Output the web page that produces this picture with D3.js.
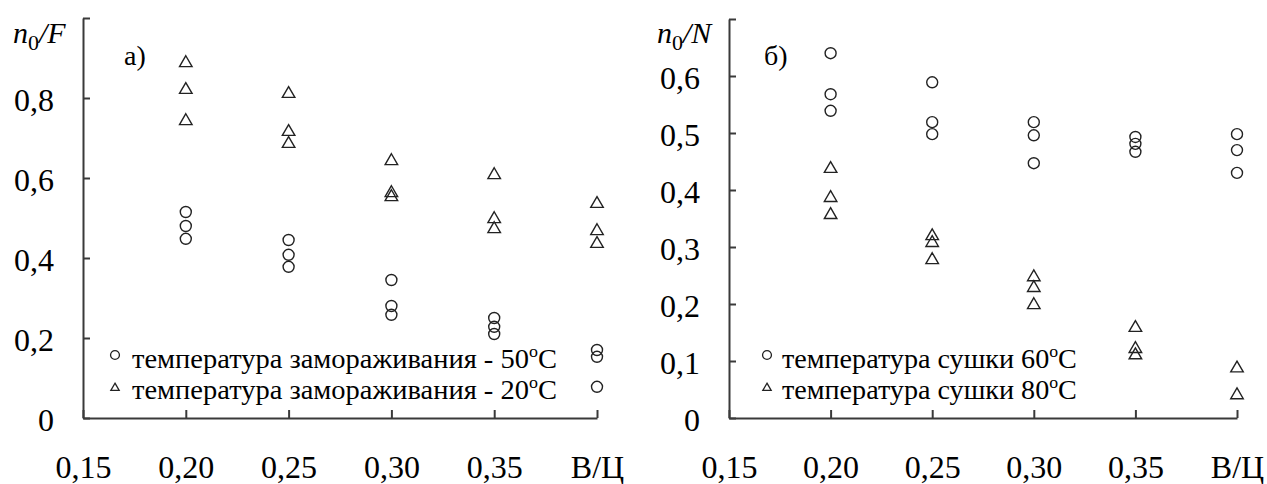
<!DOCTYPE html>
<html>
<head>
<meta charset="utf-8">
<script src="https://cdn.jsdelivr.net/npm/d3@7"></script>
<style>
  body { margin: 0; background: #fff; }
  svg { display: block; }
</style>
</head>
<body>
<svg id="chart" width="1267" height="484"></svg>
<script>
// ---------- data ----------
const xTicks = [0.15, 0.20, 0.25, 0.30, 0.35, 0.40];
const xTickLabels = ["0,15", "0,20", "0,25", "0,30", "0,35", "В/Ц"];

// panel a)
const aYTicks = [0, 0.2, 0.4, 0.6, 0.8, 1.0];
const aYTickLabels = ["0", "0,2", "0,4", "0,6", "0,8", ""];
const aCircles = [
  [0.20, [0.515, 0.48, 0.448]],
  [0.25, [0.445, 0.408, 0.378]],
  [0.30, [0.345, 0.28, 0.258]],
  [0.35, [0.25, 0.228, 0.21]],
  [0.40, [0.17, 0.153, 0.078]]
];
const aTriangles = [
  [0.20, [0.89, 0.823, 0.745]],
  [0.25, [0.813, 0.718, 0.688]],
  [0.30, [0.645, 0.565, 0.555]],
  [0.35, [0.61, 0.50, 0.475]],
  [0.40, [0.538, 0.47, 0.438]]
];
const aLegend = ["температура замораживания - 50", "температура замораживания - 20"];

// panel б)
const bYTicks = [0, 0.1, 0.2, 0.3, 0.4, 0.5, 0.6, 0.7];
const bYTickLabels = ["0", "0,1", "0,2", "0,3", "0,4", "0,5", "0,6", ""];
const bCircles = [
  [0.20, [0.64, 0.568, 0.539]],
  [0.25, [0.589, 0.519, 0.498]],
  [0.30, [0.519, 0.496, 0.447]],
  [0.35, [0.493, 0.481, 0.467]],
  [0.40, [0.498, 0.47, 0.43]]
];
const bTriangles = [
  [0.20, [0.439, 0.388, 0.358]],
  [0.25, [0.321, 0.309, 0.279]],
  [0.30, [0.249, 0.23, 0.20]],
  [0.35, [0.16, 0.123, 0.112]],
  [0.40, [0.089, 0.042]]
];
const bLegend = ["температура сушки 60", "температура сушки 80"];

// ---------- drawing ----------
const FONT = "Liberation Serif";
const svg = d3.select("#chart");
const AXIS = "#3a3a3a";
const MARK = "#222";

function flatten(groups) {
  const out = [];
  groups.forEach(([x, ys]) => ys.forEach(y => out.push({ x, y })));
  return out;
}

function txt(sel, size) {
  return sel.attr("font-family", FONT).style("font-family", FONT)
    .attr("font-size", size).style("font-size", size + "px").attr("fill", "#000");
}

function panel(opt) {
  const g = svg.append("g");
  const x = d3.scaleLinear().domain([0.15, 0.40]).range([opt.x0, opt.x1]);
  const y = d3.scaleLinear().domain([0, opt.yMax]).range([418, opt.yTop]);

  // x axis
  const xa = g.append("g").attr("transform", `translate(0,${y(0)})`)
    .call(d3.axisBottom(x).tickValues(xTicks)
      .tickFormat((d, i) => xTickLabels[i]).tickSizeInner(-8).tickSizeOuter(0));
  xa.attr("font-family", FONT).attr("font-size", 32);
  xa.select(".domain").attr("stroke", AXIS).attr("stroke-width", 2);
  xa.selectAll(".tick line").attr("stroke", AXIS).attr("stroke-width", 2);
  txt(xa.selectAll(".tick text").attr("y", 60).attr("dy", 0), 32);

  // y axis
  const ya = g.append("g").attr("transform", `translate(${x(0.15)},0)`)
    .call(d3.axisLeft(y).tickValues(opt.yTicks)
      .tickFormat((d, i) => opt.yTickLabels[i]).tickSizeInner(-7).tickSizeOuter(0));
  ya.attr("font-family", FONT).attr("font-size", 32);
  ya.select(".domain").attr("stroke", AXIS).attr("stroke-width", 2);
  ya.selectAll(".tick line").attr("stroke", AXIS).attr("stroke-width", 2);
  txt(ya.selectAll(".tick text").attr("x", -29).attr("dy", 12), 32);

  // axis title
  const t = txt(g.append("text").attr("x", opt.titleX).attr("y", 43), 30)
    .attr("font-style", "italic").style("font-style", "italic");
  t.append("tspan").text("n");
  t.append("tspan").text("0").attr("dy", 7).attr("font-size", 22).style("font-size", "22px")
    .attr("font-style", "normal").style("font-style", "normal");
  t.append("tspan").text("/" + opt.titleVar).attr("dy", -7);

  // panel letter
  txt(g.append("text").attr("x", opt.letterX).attr("y", 65), 28).text(opt.letter);

  // markers
  const circ = d3.symbol().type(d3.symbolCircle).size(95);
  const tri = d3.symbol().type(d3.symbolTriangle).size(68);
  g.selectAll(".c").data(flatten(opt.circles)).join("path")
    .attr("d", circ).attr("transform", d => `translate(${x(d.x)},${y(d.y)})`)
    .attr("fill", "none").attr("stroke", MARK).attr("stroke-width", 1.4);
  g.selectAll(".t").data(flatten(opt.triangles)).join("path")
    .attr("d", tri).attr("transform", d => `translate(${x(d.x)},${y(d.y) + 1})`)
    .attr("fill", "none").attr("stroke", MARK).attr("stroke-width", 1.4);

  // legend
  const lc = d3.symbol().type(d3.symbolCircle).size(62);
  const lt = d3.symbol().type(d3.symbolTriangle).size(30);
  const rows = [{ sym: lc, sy: 355 }, { sym: lt, sy: 388 }];
  const base = [368, 399];
  rows.forEach((r, i) => {
    g.append("path").attr("d", r.sym)
      .attr("transform", `translate(${opt.legX},${r.sy})`)
      .attr("fill", "none").attr("stroke", MARK).attr("stroke-width", 1.3);
    const tx = txt(g.append("text").attr("x", opt.legTextX).attr("y", base[i]), 27);
    tx.append("tspan").text(opt.legend[i]);
    tx.append("tspan").text("o").attr("dy", -11).attr("font-size", 17).style("font-size", "17px");
    tx.append("tspan").text("C").attr("dy", 11);
    const w = tx.node().getBBox().width;
    const sx = opt.legWidth / w;
    tx.attr("transform", `translate(${opt.legTextX},0) scale(${sx},1) translate(${-opt.legTextX},0)`);
  });
}

panel({
  x0: 83, x1: 597, yMax: 1.0, yTop: 18,
  yTicks: aYTicks, yTickLabels: aYTickLabels,
  circles: aCircles, triangles: aTriangles,
  titleX: 13, titleVar: "F", letter: "а)", letterX: 124,
  legend: aLegend, legX: 115, legTextX: 132, legWidth: 425
});

panel({
  x0: 729, x1: 1237, yMax: 0.7, yTop: 19,
  yTicks: bYTicks, yTickLabels: bYTickLabels,
  circles: bCircles, triangles: bTriangles,
  titleX: 657, titleVar: "N", letter: "б)", letterX: 764,
  legend: bLegend, legX: 767, legTextX: 782, legWidth: 295
});
</script>
</body>
</html>
